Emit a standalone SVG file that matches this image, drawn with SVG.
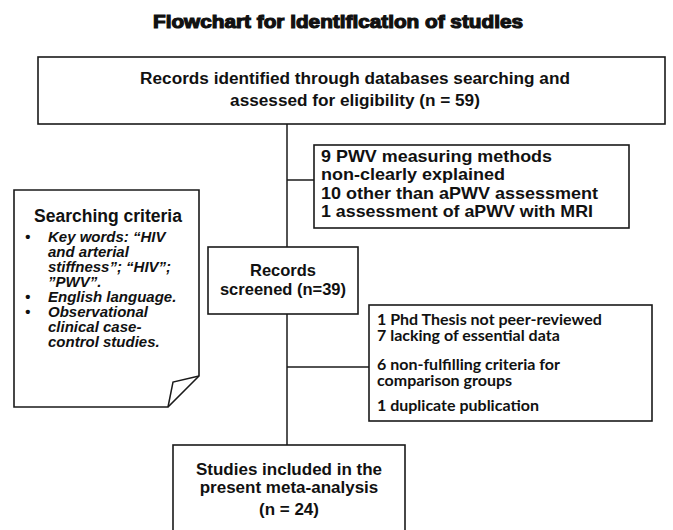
<svg xmlns="http://www.w3.org/2000/svg" width="673" height="530" viewBox="0 0 673 530">
<style>
.box{fill:#fff;stroke:#1a1a1a;stroke-width:1.6}
.ln{fill:none;stroke:#1a1a1a;stroke-width:1.5}
.a{font-family:"Liberation Sans",Arial,sans-serif;font-weight:bold;fill:#111}
.c{font-family:Lato,"Liberation Sans",sans-serif;font-weight:bold;fill:#111;font-size:16px}
.it{font-family:"Liberation Sans",Arial,sans-serif;font-weight:bold;font-style:italic;fill:#111;font-size:15px}
.mid{text-anchor:middle}
</style>
<rect width="673" height="530" fill="#fff"/>
<text id="title" class="a mid" x="338" y="28" font-size="17.5" stroke="#111" stroke-width="1.1" textLength="370" lengthAdjust="spacingAndGlyphs">Flowchart for identification of studies</text>
<g id="connectors">
<line class="ln" x1="287" y1="124" x2="287" y2="247"/>
<line class="ln" x1="287" y1="180" x2="314" y2="180"/>
<line class="ln" x1="287" y1="314" x2="287" y2="445"/>
<line class="ln" x1="287" y1="367" x2="369" y2="367"/>
</g>
<g id="records-identified">
<rect class="box" x="38" y="57" width="627" height="67"/>
<text class="a mid" x="355" y="84" font-size="17.2">Records identified through databases searching and</text>
<text class="a mid" x="355" y="106" font-size="17.2">assessed for eligibility (n = 59)</text>
</g>
<g id="exclusion-1">
<rect class="box" x="314" y="145" width="315" height="83"/>
<text class="a" x="321" y="162" font-size="16.5" textLength="231" lengthAdjust="spacingAndGlyphs">9 PWV measuring methods</text>
<text class="a" x="321" y="180" font-size="16.5" textLength="184" lengthAdjust="spacingAndGlyphs">non-clearly explained</text>
<text class="a" x="321" y="199" font-size="16.5" textLength="277" lengthAdjust="spacingAndGlyphs">10 other than aPWV assessment</text>
<text class="a" x="321" y="217" font-size="16.5" textLength="272" lengthAdjust="spacingAndGlyphs">1 assessment of aPWV with MRI</text>
</g>
<g id="searching-criteria">
<path class="box" d="M14,190 H199 V376 L168,407 H14 Z"/>
<path class="ln" d="M199,376 L173,382 L168,407"/>
<text class="a mid" x="108" y="222" font-size="17.5">Searching criteria</text>
<text class="it" x="25" y="242">•</text>
<text class="it" x="48" y="242">Key words: “HIV</text>
<text class="it" x="48" y="257">and arterial</text>
<text class="it" x="48" y="272">stiffness”; “HIV”;</text>
<text class="it" x="48" y="287">”PWV”.</text>
<text class="it" x="25" y="302">•</text>
<text class="it" x="48" y="302"> English language.</text>
<text class="it" x="25" y="317">•</text>
<text class="it" x="48" y="317">Observational</text>
<text class="it" x="48" y="332">clinical case-</text>
<text class="it" x="48" y="347">control studies.</text>
</g>
<g id="records-screened">
<rect class="box" x="208" y="247" width="150" height="67"/>
<text class="a mid" x="283" y="276" font-size="16.5">Records</text>
<text class="a mid" x="283" y="295" font-size="16.5">screened (n=39)</text>
</g>
<g id="exclusion-2">
<rect class="box" x="369" y="305" width="283" height="116"/>
<text class="c" x="377" y="324.5">1 Phd Thesis not peer-reviewed</text>
<text class="c" x="377" y="341">7 lacking of essential data</text>
<text class="c" x="377" y="369.5">6 non-fulfilling criteria for</text>
<text class="c" x="377" y="386">comparison groups</text>
<text class="c" x="377" y="410.5">1 duplicate publication</text>
</g>
<g id="studies-included">
<rect class="box" x="173" y="445" width="232" height="90"/>
<text class="a mid" x="289" y="475" font-size="17">Studies included in the</text>
<text class="a mid" x="289" y="493" font-size="17">present meta-analysis</text>
<text class="a mid" x="289" y="515" font-size="17">(n = 24)</text>
</g>
</svg>
